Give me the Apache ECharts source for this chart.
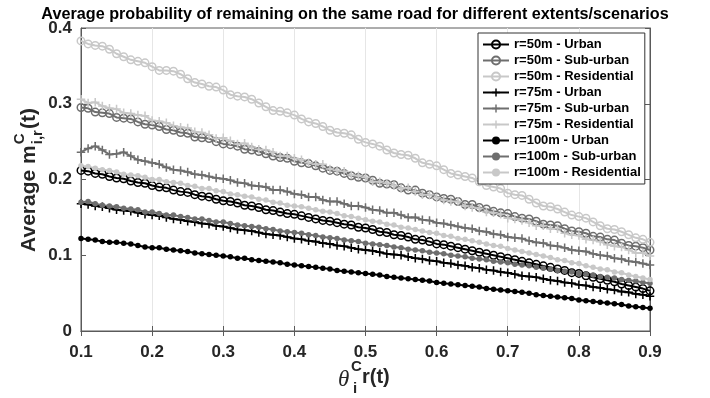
<!DOCTYPE html>
<html><head><meta charset="utf-8">
<script src="https://cdn.jsdelivr.net/npm/echarts@6/dist/echarts.min.js"></script>
<style>html,body{margin:0;padding:0;background:#fff}#c{width:710px;height:398px}</style>
</head><body><div id="c"></div>
<script>
const xValues = [0.10,0.11,0.12,0.13,0.14,0.15,0.16,0.17,0.18,0.19,0.20,0.21,0.22,0.23,0.24,0.25,0.26,0.27,0.28,0.29,0.30,0.31,0.32,0.33,0.34,0.35,0.36,0.37,0.38,0.39,0.40,0.41,0.42,0.43,0.44,0.45,0.46,0.47,0.48,0.49,0.50,0.51,0.52,0.53,0.54,0.55,0.56,0.57,0.58,0.59,0.60,0.61,0.62,0.63,0.64,0.65,0.66,0.67,0.68,0.69,0.70,0.71,0.72,0.73,0.74,0.75,0.76,0.77,0.78,0.79,0.80,0.81,0.82,0.83,0.84,0.85,0.86,0.87,0.88,0.89,0.90];

const r50Urban = [.212,.211,.208,.207,.204,.202,.201,.198,.196,.195,.192,.190,.189,.186,.184,.183,.180,.178,.177,.174,.172,.171,.169,.166,.165,.163,.160,.159,.157,.155,.154,.152,.150,.148,.146,.145,.143,.141,.140,.137,.136,.134,.131,.130,.127,.126,.124,.121,.120,.118,.115,.114,.112,.110,.108,.106,.104,.102,.100,.098,.096,.094,.092,.090,.088,.086,.084,.082,.080,.077,.076,.073,.071,.069,.067,.065,.062,.060,.058,.056,.053];
const r50Sub = [.295,.294,.289,.288,.287,.282,.281,.280,.276,.273,.272,.270,.266,.265,.262,.261,.256,.255,.254,.250,.247,.246,.244,.240,.239,.237,.234,.231,.229,.228,.224,.222,.221,.218,.215,.212,.211,.208,.205,.203,.202,.199,.195,.194,.193,.189,.186,.186,.182,.180,.177,.175,.174,.171,.167,.167,.163,.161,.158,.156,.155,.151,.149,.148,.145,.141,.140,.139,.135,.132,.131,.129,.125,.124,.121,.120,.116,.113,.112,.110,.107];
const r50Res = [.383,.379,.377,.376,.372,.366,.362,.358,.356,.354,.349,.344,.344,.343,.339,.333,.328,.326,.323,.322,.318,.312,.310,.309,.306,.301,.296,.291,.290,.288,.285,.280,.276,.274,.270,.265,.262,.261,.259,.253,.249,.247,.244,.239,.235,.233,.232,.228,.222,.220,.218,.213,.208,.206,.204,.202,.197,.192,.190,.188,.182,.180,.179,.174,.169,.165,.164,.161,.157,.153,.151,.149,.144,.139,.135,.134,.131,.127,.123,.121,.117];
const r75Urban = [.168,.167,.165,.164,.162,.160,.159,.158,.156,.154,.153,.152,.150,.148,.147,.145,.144,.142,.141,.139,.138,.136,.134,.133,.132,.130,.128,.127,.126,.124,.122,.121,.119,.118,.116,.115,.113,.112,.110,.108,.107,.106,.104,.102,.101,.100,.098,.096,.095,.093,.092,.090,.089,.087,.086,.084,.083,.081,.080,.078,.077,.075,.073,.072,.071,.069,.067,.066,.064,.063,.061,.060,.058,.057,.055,.054,.052,.051,.049,.048,.046];
const r75Sub = [.236,.241,.244,.239,.233,.234,.236,.231,.226,.224,.222,.220,.216,.213,.212,.210,.207,.206,.204,.202,.201,.199,.196,.195,.192,.191,.190,.186,.186,.184,.181,.180,.177,.177,.173,.171,.171,.168,.165,.165,.163,.160,.159,.156,.156,.153,.150,.150,.147,.146,.143,.142,.140,.138,.136,.135,.132,.131,.128,.127,.124,.123,.122,.119,.117,.116,.113,.112,.110,.107,.106,.105,.102,.100,.099,.096,.095,.092,.091,.089,.087];
const r75Res = [.306,.301,.302,.297,.294,.293,.288,.287,.285,.284,.278,.277,.275,.271,.269,.268,.263,.262,.259,.254,.255,.251,.247,.248,.243,.240,.239,.236,.231,.231,.228,.226,.222,.220,.220,.214,.212,.211,.206,.205,.203,.197,.197,.195,.192,.188,.189,.184,.180,.180,.176,.173,.171,.171,.165,.163,.162,.157,.156,.154,.149,.148,.146,.143,.139,.139,.135,.135,.129,.127,.126,.121,.120,.118,.114,.112,.111,.107,.103,.103,.099];
const r100Urban = [.122,.121,.120,.118,.117,.117,.116,.115,.113,.111,.110,.110,.108,.107,.106,.105,.103,.102,.101,.100,.099,.098,.096,.096,.094,.093,.092,.091,.090,.088,.087,.086,.085,.084,.083,.082,.080,.079,.078,.077,.076,.075,.074,.072,.071,.070,.069,.068,.067,.066,.064,.063,.062,.061,.060,.059,.058,.056,.055,.054,.053,.052,.051,.050,.048,.047,.046,.045,.044,.043,.041,.040,.039,.038,.037,.036,.035,.033,.032,.031,.030];
const r100Sub = [.170,.171,.168,.166,.165,.164,.162,.161,.160,.157,.157,.155,.153,.153,.151,.150,.148,.148,.146,.144,.144,.142,.140,.139,.138,.137,.135,.134,.132,.131,.130,.129,.127,.126,.124,.123,.122,.120,.119,.118,.116,.115,.114,.113,.111,.110,.108,.107,.106,.104,.103,.102,.100,.099,.098,.096,.095,.094,.092,.091,.090,.088,.087,.086,.084,.083,.082,.080,.079,.078,.076,.075,.074,.072,.071,.070,.068,.067,.066,.064,.063];
const r100Res = [.218,.217,.215,.213,.212,.210,.207,.206,.205,.203,.200,.200,.197,.196,.195,.192,.191,.188,.188,.185,.184,.181,.180,.178,.177,.174,.173,.170,.169,.166,.165,.164,.162,.160,.158,.157,.155,.152,.151,.149,.147,.145,.144,.141,.140,.137,.136,.134,.132,.130,.129,.126,.125,.122,.121,.119,.117,.115,.113,.112,.109,.107,.105,.103,.101,.099,.097,.094,.093,.090,.089,.086,.084,.082,.081,.078,.077,.074,.072,.070,.068];

const seriesNames = ['r=50m - Urban','r=50m - Sub-urban','r=50m - Residential','r=75m - Urban','r=75m - Sub-urban','r=75m - Residential','r=100m - Urban','r=100m - Sub-urban','r=100m - Residential'];
const xTickLabels = ['0.1','0.2','0.3','0.4','0.5','0.6','0.7','0.8','0.9'];
const yTickLabels = ['0','0.1','0.2','0.3','0.4'];
const titleText = 'Average probability of remaining on the same road for different extents/scenarios';

const FONT = '"Liberation Sans", Arial, Helvetica, sans-serif';
const BLACK = '#000000', GRAY = '#6e6e6e', LIGHT = '#c8c8c8';
const PLUS = 'path://M4.1,0H5.9V10H4.1Z M0,4.1H10V5.9H0Z';

function mk(name, vals, color, kind) {
  const s = {
    name: name, type: 'line', data: xValues.map((x, i) => [x, vals[i]]),
    showAllSymbol: true, smooth: false,
    lineStyle: { color: color, width: 2 },
    emphasis: { disabled: true }
  };
  if (kind === 'ring') {
    s.symbol = 'circle'; s.symbolSize = 7.5;
    s.itemStyle = { color: 'rgba(0,0,0,0)', borderColor: color, borderWidth: 1.5 };
  } else if (kind === 'plus') {
    s.symbol = PLUS; s.symbolSize = 8.5;
    s.itemStyle = { color: color };
  } else {
    s.symbol = 'circle'; s.symbolSize = 5.5;
    s.itemStyle = { color: color };
  }
  return s;
}

const series = [
  mk(seriesNames[0], r50Urban, BLACK, 'ring'),
  mk(seriesNames[1], r50Sub, GRAY, 'ring'),
  mk(seriesNames[2], r50Res, LIGHT, 'ring'),
  mk(seriesNames[3], r75Urban, BLACK, 'plus'),
  mk(seriesNames[4], r75Sub, GRAY, 'plus'),
  mk(seriesNames[5], r75Res, LIGHT, 'plus'),
  mk(seriesNames[6], r100Urban, BLACK, 'dot'),
  mk(seriesNames[7], r100Sub, GRAY, 'dot'),
  mk(seriesNames[8], r100Res, LIGHT, 'dot')
];

const ctx = document.createElement('canvas').getContext('2d');
function tw(t, f) { ctx.font = f; return ctx.measureText(t).width; }
const F1 = 'bold 21px ' + FONT, F2 = 'bold 15px ' + FONT;
const wMain = tw('Average m', F1);
const wSS = Math.max(tw('C', F2), tw('i,r', F2));
const yLabelLen = wMain + 1 + wSS + 1 + tw('(t)', F1);

const AX = '#5a5a5a', TXT = '#262626';
const chart = echarts.init(document.getElementById('c'), null, { renderer: 'canvas' });
chart.setOption({
  animation: false,
  backgroundColor: '#ffffff',
  title: { text: titleText, left: 'center', top: 2,
    textStyle: { fontFamily: FONT, fontWeight: 'bold', fontSize: 16.2, color: '#000' } },
  grid: { left: 81, right: 60, top: 28, bottom: 67, show: true, borderColor: AX, borderWidth: 1, containLabel: false },
  legend: {
    data: seriesNames, orient: 'vertical', left: 478, top: 33,
    itemWidth: 26, itemHeight: 10, itemGap: 3, padding: [5, 4, 5, 4],
    backgroundColor: '#fff', borderColor: '#333', borderWidth: 1,
    textStyle: { fontFamily: FONT, fontWeight: 'bold', fontSize: 13, color: '#000' },
    selectedMode: false
  },
  xAxis: [{
    type: 'value', min: 0.1, max: 0.9, interval: 0.1,
    axisLine: { lineStyle: { color: AX } },
    axisTick: { inside: true, length: 5, lineStyle: { color: AX } },
    axisLabel: { fontFamily: FONT, fontWeight: 'bold', fontSize: 17, color: TXT, margin: 13,
      formatter: v => xTickLabels[Math.round(v * 10) - 1] },
    splitLine: { show: true, lineStyle: { color: '#e6e6e6', width: 1 } }
  }, {
    type: 'value', position: 'top', min: 0.1, max: 0.9, interval: 0.1,
    axisLine: { lineStyle: { color: AX } },
    axisTick: { inside: true, length: 5, lineStyle: { color: AX } },
    axisLabel: { show: false }, splitLine: { show: false }
  }],
  yAxis: [{
    type: 'value', min: 0, max: 0.4, interval: 0.1,
    axisLine: { show: true, lineStyle: { color: AX } },
    axisTick: { show: true, inside: true, length: 5, lineStyle: { color: AX } },
    axisLabel: { fontFamily: FONT, fontWeight: 'bold', fontSize: 17, color: TXT, margin: 9,
      formatter: v => yTickLabels[Math.round(v * 10)] },
    splitLine: { show: false }
  }, {
    type: 'value', position: 'right', min: 0, max: 0.4, interval: 0.1,
    axisLine: { show: true, lineStyle: { color: AX } },
    axisTick: { show: true, inside: true, length: 5, lineStyle: { color: AX } },
    axisLabel: { show: false }, splitLine: { show: false }
  }],
  series: series,
  graphic: [
    { type: 'group', x: 0, y: 0, children: [
      { type: 'text', style: { x: 338, y: 380, text: '\u03B8', font: 'italic 23px "Liberation Serif", serif', fill: TXT, align: 'left', verticalAlign: 'middle' } },
      { type: 'text', style: { x: 351, y: 367, text: 'C', font: 'bold 15px ' + FONT, fill: TXT, align: 'left', verticalAlign: 'middle' } },
      { type: 'text', style: { x: 353, y: 389, text: 'i', font: 'bold 15px ' + FONT, fill: TXT, align: 'left', verticalAlign: 'middle' } },
      { type: 'text', style: { x: 362, y: 377, text: 'r(t)', font: 'bold 20px ' + FONT, fill: TXT, align: 'left', verticalAlign: 'middle' } }
    ]},
    { type: 'group', x: 29, y: 180 + yLabelLen / 2, rotation: Math.PI / 2, children: [
      { type: 'text', style: { x: 0, y: 0, text: 'Average m', font: F1, fill: TXT, align: 'left', verticalAlign: 'middle' } },
      { type: 'text', style: { x: wMain + 1, y: -9, text: 'C', font: F2, fill: TXT, align: 'left', verticalAlign: 'middle' } },
      { type: 'text', style: { x: wMain + 1, y: 9, text: 'i,r', font: F2, fill: TXT, align: 'left', verticalAlign: 'middle' } },
      { type: 'text', style: { x: wMain + 2 + wSS, y: 0, text: '(t)', font: F1, fill: TXT, align: 'left', verticalAlign: 'middle' } }
    ]}
  ]
});
</script>
</body></html>
